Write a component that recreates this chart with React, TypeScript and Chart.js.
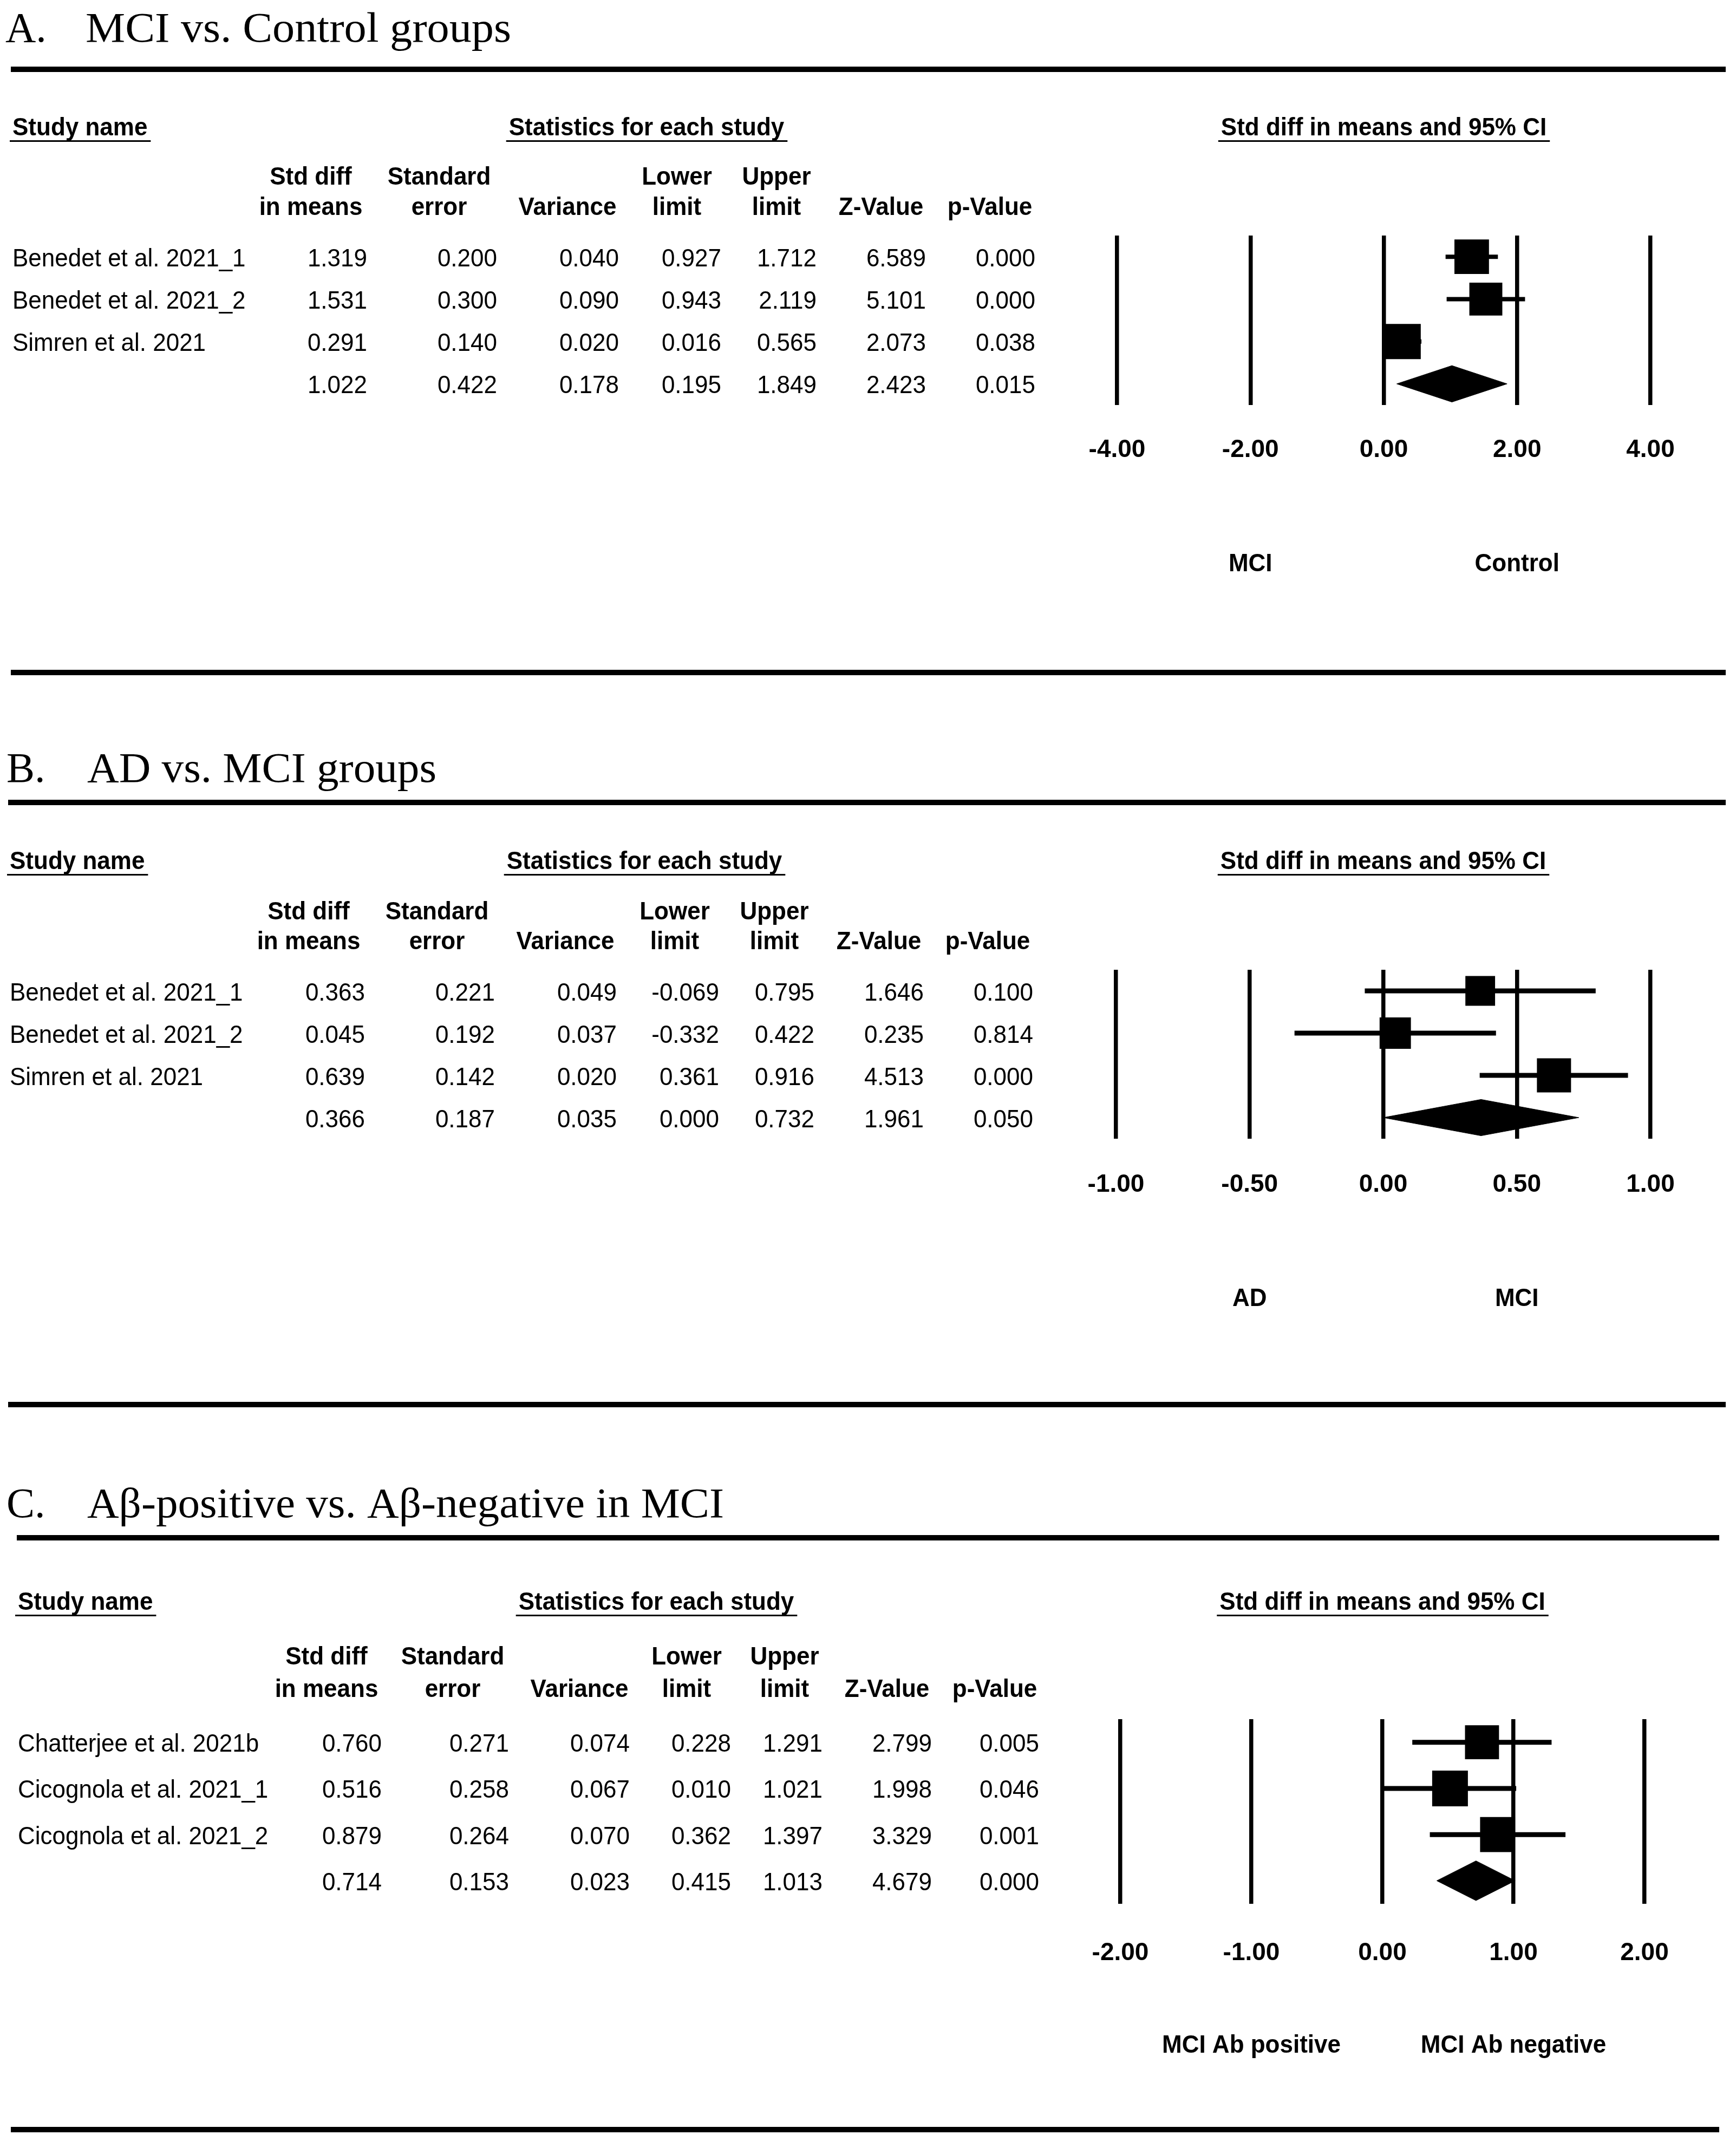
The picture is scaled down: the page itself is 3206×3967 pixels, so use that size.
import React, { useEffect, useRef } from "react";
import { Chart, registerables } from "chart.js";

Chart.register(...registerables);

const W = 3206;
const H = 3967;
const SANS = '"Liberation Sans", Arial, sans-serif';
const SERIF = '"Liberation Serif", "Times New Roman", serif';

// ---------- shared header text ----------
const headerLine1 = ["Std diff", "Standard", "", "Lower", "Upper", "", ""];
const headerLine2 = ["in means", "error", "Variance", "limit", "limit", "Z-Value", "p-Value"];

// ---------- Panel A ----------
const titleA = ["A.", "MCI vs. Control groups"];
const studiesA = ["Benedet et al. 2021_1", "Benedet et al. 2021_2", "Simren et al. 2021"];
const estA = [1.319, 1.531, 0.291, 1.022];
const seA = [0.2, 0.3, 0.14, 0.422];
const varA = [0.04, 0.09, 0.02, 0.178];
const lowerA = [0.927, 0.943, 0.016, 0.195];
const upperA = [1.712, 2.119, 0.565, 1.849];
const zA = [6.589, 5.101, 2.073, 2.423];
const pA = [0.0, 0.0, 0.038, 0.015];
const weightsA = [33.9, 30.9, 35.2];
const ticksA = [-4, -2, 0, 2, 4];
const sideLabelsA = ["MCI", "Control"];

// ---------- Panel B ----------
const titleB = ["B.", "AD vs. MCI groups"];
const studiesB = ["Benedet et al. 2021_1", "Benedet et al. 2021_2", "Simren et al. 2021"];
const estB = [0.363, 0.045, 0.639, 0.366];
const seB = [0.221, 0.192, 0.142, 0.187];
const varB = [0.049, 0.037, 0.02, 0.035];
const lowerB = [-0.069, -0.332, 0.361, 0.0];
const upperB = [0.795, 0.422, 0.916, 0.732];
const zB = [1.646, 0.235, 4.513, 1.961];
const pB = [0.1, 0.814, 0.0, 0.05];
const weightsB = [28.9, 32.1, 38.1];
const ticksB = [-1, -0.5, 0, 0.5, 1];
const sideLabelsB = ["AD", "MCI"];

// ---------- Panel C ----------
const titleC = ["C.", "A\u03b2-positive vs. A\u03b2-negative in MCI"];
const studiesC = ["Chatterjee et al. 2021b", "Cicognola et al. 2021_1", "Cicognola et al. 2021_2"];
const estC = [0.76, 0.516, 0.879, 0.714];
const seC = [0.271, 0.258, 0.264, 0.153];
const varC = [0.074, 0.067, 0.07, 0.023];
const lowerC = [0.228, 0.01, 0.362, 0.415];
const upperC = [1.291, 1.021, 1.397, 1.013];
const zC = [2.799, 1.998, 3.329, 4.679];
const pC = [0.005, 0.046, 0.001, 0.0];
const weightsC = [31.6, 34.9, 33.5];
const ticksC = [-2, -1, 0, 1, 2];
const sideLabelsC = ["MCI Ab positive", "MCI Ab negative"];

type Layout = {
  letterX: number;
  titleX: number;
  titleY: number;
  titleW: number;
  ruleTop: [number, number, number];
  ruleBottom: [number, number, number];
  nameX: number;
  hdrY: number;
  col1Y: number;
  col2Y: number;
  colRight: number[];
  colCenter: number[];
  statsCenter: number;
  area: { l: number; r: number; t: number; b: number };
  tickPad: number;
  sideY: number;
  ciWidth: number;
  sqBase: number;
};

type Panel = {
  id: string;
  title: string[];
  studies: string[];
  cols: number[][];
  est: number[];
  lower: number[];
  upper: number[];
  weights: number[];
  ticks: number[];
  sideLabels: string[];
  L: Layout;
};

const panels: Panel[] = [
  {
    id: "A",
    title: titleA,
    studies: studiesA,
    cols: [estA, seA, varA, lowerA, upperA, zA, pA],
    est: estA,
    lower: lowerA,
    upper: upperA,
    weights: weightsA,
    ticks: ticksA,
    sideLabels: sideLabelsA,
    L: {
      letterX: 10, titleX: 158, titleY: 77, titleW: 786,
      ruleTop: [128, 20, 3187], ruleBottom: [1242, 20, 3187],
      nameX: 23, hdrY: 250, col1Y: 341, col2Y: 397,
      colRight: [678, 918, 1143, 1332, 1508, 1710, 1912],
      colCenter: [574, 811, 1048, 1250, 1434, 1627, 1828],
      statsCenter: 1194,
      area: { l: 2063, r: 3048, t: 435, b: 748 },
      tickPad: 56, sideY: 1038, ciWidth: 8, sqBase: 65,
    },
  },
  {
    id: "B",
    title: titleB,
    studies: studiesB,
    cols: [estB, seB, varB, lowerB, upperB, zB, pB],
    est: estB,
    lower: lowerB,
    upper: upperB,
    weights: weightsB,
    ticks: ticksB,
    sideLabels: sideLabelsB,
    L: {
      letterX: 12, titleX: 161, titleY: 1444, titleW: 645,
      ruleTop: [1482, 15, 3187], ruleBottom: [2594, 15, 3187],
      nameX: 18, hdrY: 1605, col1Y: 1698, col2Y: 1753,
      colRight: [674, 914, 1139, 1328, 1504, 1706, 1908],
      colCenter: [570, 807, 1044, 1246, 1430, 1623, 1824],
      statsCenter: 1190,
      area: { l: 2061, r: 3048, t: 1791, b: 2103 },
      tickPad: 58, sideY: 2395, ciWidth: 9, sqBase: 63,
    },
  },
  {
    id: "C",
    title: titleC,
    studies: studiesC,
    cols: [estC, seC, varC, lowerC, upperC, zC, pC],
    est: estC,
    lower: lowerC,
    upper: upperC,
    weights: weightsC,
    ticks: ticksC,
    sideLabels: sideLabelsC,
    L: {
      letterX: 12, titleX: 161, titleY: 2802, titleW: 1176,
      ruleTop: [2840, 31, 3175], ruleBottom: [3933, 20, 3175],
      nameX: 33, hdrY: 2973, col1Y: 3074, col2Y: 3134,
      colRight: [705, 940, 1163, 1350, 1519, 1721, 1919],
      colCenter: [603, 836, 1070, 1268, 1449, 1638, 1837],
      statsCenter: 1212,
      area: { l: 2069, r: 3037, t: 3175, b: 3516 },
      tickPad: 64, sideY: 3774, ciWidth: 9, sqBase: 66,
    },
  },
];

const SY = 1.07; // vertical stretch of the sans text
const AXIS_H = 180;
const DIAMOND_HALF = 0.43;

function drawText(
  ctx: CanvasRenderingContext2D,
  text: string,
  x: number,
  y: number,
  font: string,
  align: CanvasTextAlign,
  sx = 1,
  sy = SY
) {
  ctx.save();
  ctx.translate(x, y);
  ctx.scale(sx, sy);
  ctx.font = font;
  ctx.textAlign = align;
  ctx.textBaseline = "alphabetic";
  ctx.fillText(text, 0, 0);
  ctx.restore();
}

function drawUnderlined(
  ctx: CanvasRenderingContext2D,
  text: string,
  x: number,
  y: number,
  font: string,
  align: CanvasTextAlign
) {
  ctx.save();
  ctx.font = font;
  const w = ctx.measureText(text).width;
  ctx.restore();
  let left = x;
  if (align === "center") left = x - w / 2;
  else if (align === "right") left = x - w;
  drawText(ctx, text, x, y, font, align);
  ctx.fillRect(left - 5, y + 9, w + 11, 3);
}

function makePlugin(p: Panel) {
  return {
    id: "forestText" + p.id,
    afterDraw(chart: any) {
      const ctx: CanvasRenderingContext2D = chart.ctx;
      const L = p.L;
      const xs = chart.scales.x;
      const ys = chart.scales.y;
      const ca = chart.chartArea;
      ctx.save();
      ctx.fillStyle = "#000";

      // panel title
      const tFont = `78px ${SERIF}`;
      drawText(ctx, p.title[0], L.letterX, L.titleY, tFont, "left", 1, 1);
      ctx.font = tFont;
      const tw = ctx.measureText(p.title[1]).width;
      drawText(ctx, p.title[1], L.titleX, L.titleY, tFont, "left", L.titleW / tw, 1);

      // thick rules
      ctx.fillRect(L.ruleTop[1], L.ruleTop[0] - 5, L.ruleTop[2] - L.ruleTop[1], 10);
      ctx.fillRect(L.ruleBottom[1], L.ruleBottom[0] - 5, L.ruleBottom[2] - L.ruleBottom[1], 10);

      const bold = `bold 44px ${SANS}`;
      const reg = `44px ${SANS}`;

      // group headers
      drawUnderlined(ctx, "Study name", L.nameX, L.hdrY, bold, "left");
      drawUnderlined(ctx, "Statistics for each study", L.statsCenter, L.hdrY, bold, "center");
      drawUnderlined(ctx, "Std diff in means and 95% CI", (ca.left + ca.right) / 2, L.hdrY, bold, "center");

      // column headers
      for (let c = 0; c < headerLine2.length; c++) {
        if (headerLine1[c]) drawText(ctx, headerLine1[c], L.colCenter[c], L.col1Y, bold, "center");
        drawText(ctx, headerLine2[c], L.colCenter[c], L.col2Y, bold, "center");
      }

      // table rows
      const nRows = p.est.length;
      for (let r = 0; r < nRows; r++) {
        const y = ys.getPixelForValue(r) + 17.5;
        if (r < p.studies.length) drawText(ctx, p.studies[r], L.nameX, y, reg, "left");
        for (let c = 0; c < p.cols.length; c++) {
          drawText(ctx, p.cols[c][r].toFixed(3), L.colRight[c], y, reg, "right");
        }
      }

      // side labels under the axis
      const sv = [p.ticks[1], p.ticks[p.ticks.length - 2]];
      for (let k = 0; k < 2; k++) {
        drawText(ctx, p.sideLabels[k], xs.getPixelForValue(sv[k]), L.sideY + 17, bold, "center");
      }
      ctx.restore();
    },
  };
}

function buildConfig(p: Panel): any {
  const L = p.L;
  const n = p.studies.length;
  const maxW = Math.max(...p.weights);
  const sides = p.weights.map((w) => L.sqBase * Math.sqrt(w / maxW));
  const ciSets = p.studies.map((_, i) => ({
    type: "line",
    data: [
      { x: p.lower[i], y: i },
      { x: p.upper[i], y: i },
    ],
    borderColor: "#000",
    borderWidth: L.ciWidth,
    borderCapStyle: "butt",
    pointRadius: 0,
    fill: false,
    order: 1,
  }));
  const e = p.est[n];
  const diamond = {
    type: "line",
    data: [
      { x: p.lower[n], y: n },
      { x: e, y: n - DIAMOND_HALF },
      { x: p.upper[n], y: n },
      { x: e, y: n + DIAMOND_HALF },
      { x: p.lower[n], y: n },
    ],
    borderColor: "#000",
    backgroundColor: "#000",
    borderWidth: 1,
    pointRadius: 0,
    fill: "shape",
    tension: 0,
    order: 2,
  };
  const squares = {
    type: "scatter",
    data: p.est.slice(0, n).map((v, i) => ({ x: v, y: i })),
    pointStyle: "rect",
    pointRadius: sides.map((s) => s / Math.SQRT2),
    backgroundColor: "#000",
    borderColor: "#000",
    borderWidth: 0,
    order: 0,
  };
  return {
    type: "scatter",
    data: { datasets: [...ciSets, diamond, squares] },
    options: {
      responsive: false,
      animation: false,
      devicePixelRatio: 1,
      events: [],
      layout: {
        padding: {
          left: L.area.l,
          right: W - L.area.r,
          top: L.area.t,
          bottom: H - L.area.b - AXIS_H,
        },
      },
      plugins: { legend: { display: false }, tooltip: { enabled: false } },
      scales: {
        x: {
          type: "linear",
          min: p.ticks[0],
          max: p.ticks[p.ticks.length - 1],
          afterBuildTicks: (ax: any) => {
            ax.ticks = p.ticks.map((v) => ({ value: v }));
          },
          afterFit: (ax: any) => {
            ax.height = AXIS_H;
          },
          grid: { color: "#000", lineWidth: 7.5, drawTicks: false },
          border: { display: false },
          ticks: {
            padding: L.tickPad,
            color: "#000",
            autoSkip: false,
            maxRotation: 0,
            font: { family: SANS, size: 46, weight: "bold" },
            callback: (v: any) => Number(v).toFixed(2),
          },
        },
        y: {
          type: "linear",
          display: false,
          min: -0.5,
          max: 3.5,
          reverse: true,
        },
      },
    },
    plugins: [makePlugin(p)],
  };
}

function ForestPanel({ p }: { p: Panel }) {
  const ref = useRef<HTMLCanvasElement>(null);
  useEffect(() => {
    if (!ref.current) return;
    const chart = new Chart(ref.current, buildConfig(p));
    return () => chart.destroy();
  }, [p]);
  return (
    <canvas
      ref={ref}
      width={W}
      height={H}
      style={{ position: "absolute", left: 0, top: 0, width: W, height: H }}
    />
  );
}

export default function App() {
  return (
    <div
      style={{
        position: "absolute",
        left: 0,
        top: 0,
        width: W,
        height: H,
        background: "#fff",
        overflow: "hidden",
      }}
    >
      {panels.map((p) => (
        <ForestPanel key={p.id} p={p} />
      ))}
    </div>
  );
}
